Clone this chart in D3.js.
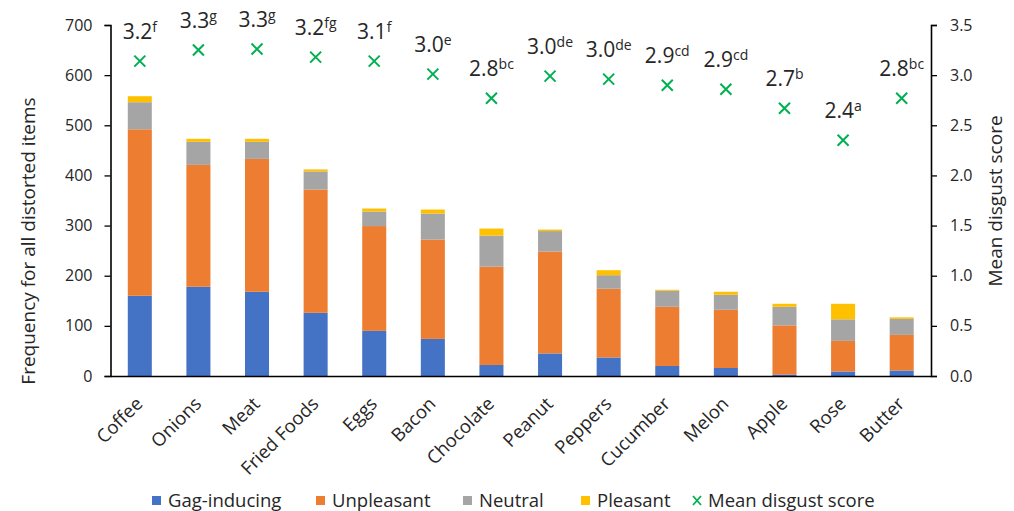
<!DOCTYPE html>
<html>
<head>
<meta charset="utf-8">
<script src="https://cdn.jsdelivr.net/npm/d3@7"></script>
<style>
  html, body { margin: 0; padding: 0; background: #fff; }
  svg { display: block; }
  text { font-family: "Open Sans", sans-serif; fill: #262626; }
</style>
</head>
<body>
<svg id="chart" width="1014" height="511"></svg>
<script>
const categories = ["Coffee","Onions","Meat","Fried Foods","Eggs","Bacon","Chocolate","Peanut","Peppers","Cucumber","Melon","Apple","Rose","Butter"];
const gagInducing = [160,178,168,126,90,74,22,45,37,20,16,3,9,11];
const unpleasant  = [332,243,265,246,209,198,196,203,137,118,116,98,61,71];
const neutral     = [54,46,34,36,29,52,62,41,27,32,30,37,43,32];
const pleasant    = [12,6,6,4,6,8,14,3,10,2,6,6,31,3];
const meanScore   = [3.14,3.25,3.26,3.18,3.14,3.01,2.77,2.99,2.96,2.90,2.86,2.67,2.35,2.77];
const meanLabel   = ["3.2","3.3","3.3","3.2","3.1","3.0","2.8","3.0","3.0","2.9","2.9","2.7","2.4","2.8"];
const meanLetters = ["f","g","g","fg","f","e","bc","de","de","cd","cd","b","a","bc"];
const seriesNames = ["Gag-inducing","Unpleasant","Neutral","Pleasant"];
const seriesColors = ["#4472C4","#ED7D31","#A5A5A5","#FFC000"];
const leftTicks = [0,100,200,300,400,500,600,700];
const rightTicks = [0,0.5,1.0,1.5,2.0,2.5,3.0,3.5];
const markerColor = "#00B050";

const svg = d3.select("#chart");
const x0 = 110.5, x1 = 931, yTop = 25, yBot = 376;

const x = d3.scaleBand().domain(categories).range([x0, x1]).paddingInner(0.59).paddingOuter(0.295);
const yL = d3.scaleLinear().domain([0, 700]).range([yBot, yTop]);
const yR = d3.scaleLinear().domain([0, 3.5]).range([yBot, yTop]);

const table = categories.map((c, i) => ({
  cat: c,
  "Gag-inducing": gagInducing[i],
  "Unpleasant": unpleasant[i],
  "Neutral": neutral[i],
  "Pleasant": pleasant[i]
}));
const stacked = d3.stack().keys(seriesNames)(table);

// bars
svg.append("g").selectAll("g").data(stacked).join("g")
  .attr("fill", (d, i) => seriesColors[i])
  .selectAll("rect").data(d => d).join("rect")
  .attr("x", d => x(d.data.cat))
  .attr("width", x.bandwidth())
  .attr("y", d => yL(d[1]))
  .attr("height", d => yL(d[0]) - yL(d[1]));

// left axis
const axL = svg.append("g").attr("transform", `translate(${x0},0)`)
  .call(d3.axisLeft(yL).tickValues(leftTicks).tickSize(6).tickPadding(12).tickFormat(d3.format("d")));
axL.select(".domain").attr("stroke", "#000").attr("stroke-width", 1.6);
axL.selectAll(".tick line").attr("stroke", "#000").attr("stroke-width", 1.3);
axL.selectAll(".tick text").style("font-family", "'Open Sans', sans-serif").style("font-size", "16px").attr("fill", "#333");

// right axis
const axR = svg.append("g").attr("transform", `translate(${x1},0)`)
  .call(d3.axisRight(yR).tickValues(rightTicks).tickSize(6).tickPadding(13).tickFormat(d3.format(".1f")));
axR.select(".domain").attr("stroke", "#000").attr("stroke-width", 1.6);
axR.selectAll(".tick line").attr("stroke", "#000").attr("stroke-width", 1.3);
axR.selectAll(".tick text").style("font-family", "'Open Sans', sans-serif").style("font-size", "16px").attr("fill", "#333");

// bottom axis
const axB = svg.append("g").attr("transform", `translate(0,${yBot})`)
  .call(d3.axisBottom(x).tickSize(0).tickSizeOuter(0).tickPadding(0));
axB.select(".domain").attr("stroke", "#000").attr("stroke-width", 1.6);
axB.selectAll(".tick text")
  .style("font-family", "'Open Sans', sans-serif").style("font-size", "18.5px").attr("fill", "#262626")
  .attr("text-anchor", "end")
  .attr("dy", 0).attr("y", 0)
  .attr("transform", "translate(4,29) rotate(-45)");

// mean markers
const cs = 5.5;
const mg = svg.append("g");
mg.selectAll("path").data(meanScore).join("path")
  .attr("d", (d, i) => {
    const cx = x(categories[i]) + x.bandwidth() / 2, cy = yR(d);
    return `M${cx-cs},${cy-cs}L${cx+cs},${cy+cs}M${cx-cs},${cy+cs}L${cx+cs},${cy-cs}`;
  })
  .attr("stroke", markerColor).attr("stroke-width", 2).attr("fill", "none");

// mean labels
const lbl = svg.append("g").selectAll("text").data(meanScore).join("text")
  .attr("x", (d, i) => x(categories[i]) + x.bandwidth() / 2)
  .attr("y", d => yR(d) - 22)
  .attr("text-anchor", "middle")
  .style("font-size", "21px");
lbl.append("tspan").text((d, i) => meanLabel[i]);
lbl.append("tspan").attr("dy", -7).style("font-size", "14px").text((d, i) => meanLetters[i]);

// axis titles
svg.append("text")
  .attr("transform", "translate(35,241) rotate(-90)")
  .attr("text-anchor", "middle")
  .style("font-size", "19px")
  .text("Frequency for all distorted items");
svg.append("text")
  .attr("transform", "translate(1002,201) rotate(-90)")
  .attr("text-anchor", "middle")
  .style("font-size", "19px")
  .text("Mean disgust score");

// legend
const legendItems = seriesNames.map((n, i) => ({ name: n, color: seriesColors[i], type: "rect" }))
  .concat([{ name: "Mean disgust score", color: markerColor, type: "x" }]);
const legendX = [152, 316, 463, 581, 692];
const lg = svg.append("g");
legendItems.forEach((it, i) => {
  const gx = legendX[i];
  if (it.type === "rect") {
    lg.append("rect").attr("x", gx).attr("y", 496).attr("width", 9).attr("height", 9).attr("fill", it.color);
  } else {
    lg.append("path")
      .attr("d", `M${gx+1},${496}L${gx+9},${505}M${gx+1},${505}L${gx+9},${496}`)
      .attr("stroke", it.color).attr("stroke-width", 1.8).attr("fill", "none");
  }
  lg.append("text").attr("x", gx + 16).attr("y", 506.5).style("font-size", "18.5px").text(it.name);
});
</script>
</body>
</html>
